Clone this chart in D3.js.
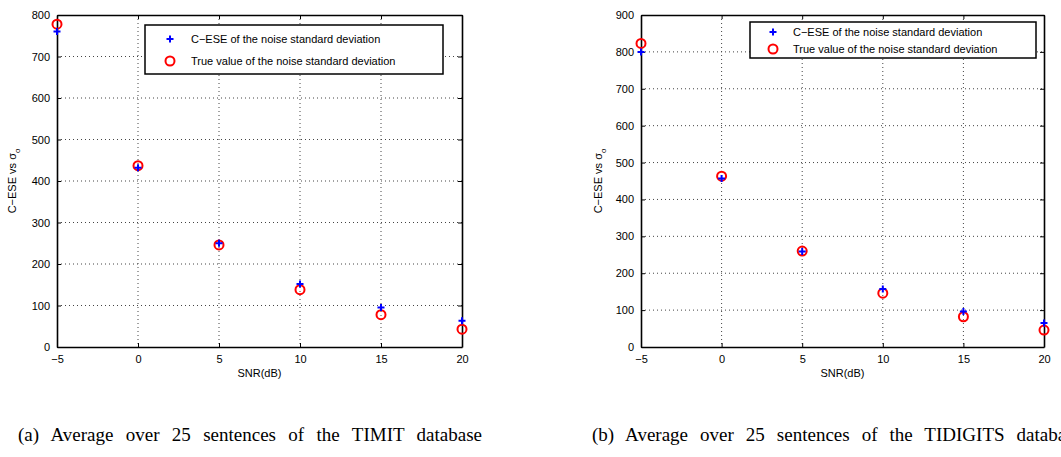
<!DOCTYPE html>
<html>
<head>
<meta charset="utf-8">
<script src="https://d3js.org/d3.v7.min.js"></script>
<style>
  body { margin: 0; background: #fff; }
  svg { display: block; }
  .tick text { font-family: "Liberation Sans", Arial, sans-serif; font-size: 11px; fill: #000; }
  .axisText { font-family: "Liberation Sans", Arial, sans-serif; font-size: 11px; fill: #000; }
  .caption { font-family: "Liberation Serif", "Times New Roman", serif; font-size: 19px; fill: #000; }
</style>
</head>
<body>
<div id="chart"></div>
<script>
var svgWidth = 1061;
var svgHeight = 457;

// Data
var snr = [-5, 0, 5, 10, 15, 20];
var timitEstimate = [760, 432, 250, 152, 95, 63];
var timitTrue = [778, 437, 246, 138, 78, 43];
var tidigitsEstimate = [800, 457, 259, 157, 96, 65];
var tidigitsTrue = [823, 463, 260, 146, 82, 46];

var xTicks = [-5, 0, 5, 10, 15, 20];
var timitYTicks = [0, 100, 200, 300, 400, 500, 600, 700, 800];
var tidigitsYTicks = [0, 100, 200, 300, 400, 500, 600, 700, 800, 900];

var legendLabels = ["C\u2212ESE of the noise standard deviation", "True value of the noise standard deviation"];
var xLabel = "SNR(dB)";
var captions = ["(a) Average over 25 sentences of the TIMIT database",
                "(b) Average over 25 sentences of the TIDIGITS database"];

var svg = d3.select("#chart")
    .append("svg")
    .attr("width", svgWidth)
    .attr("height", svgHeight);

function drawPanel(p) {
    var g = svg.append("g").attr("transform", `translate(${p.left}, ${p.top})`);
    var width = p.width, height = p.height;

    var x = d3.scaleLinear().domain([-5, 20]).range([0, width]);
    var y = d3.scaleLinear().domain([0, d3.max(p.yTicks)]).range([height, 0]);

    // Dotted grid
    g.append("g").selectAll("line").data(xTicks.slice(1, -1)).enter().append("line")
        .attr("x1", d => x(d)).attr("x2", d => x(d))
        .attr("y1", 0).attr("y2", height)
        .attr("stroke", "#444").attr("stroke-width", 1).attr("stroke-dasharray", "1,3");
    g.append("g").selectAll("line").data(p.yTicks.slice(1, -1)).enter().append("line")
        .attr("x1", 0).attr("x2", width)
        .attr("y1", d => y(d)).attr("y2", d => y(d))
        .attr("stroke", "#444").attr("stroke-width", 1).attr("stroke-dasharray", "1,3");

    // Axes with inner ticks (MATLAB box style)
    var bottomAxis = d3.axisBottom(x).tickValues(xTicks).tickSizeInner(-4).tickSizeOuter(0).tickPadding(8);
    var leftAxis = d3.axisLeft(y).tickValues(p.yTicks).tickSizeInner(-4).tickSizeOuter(0).tickPadding(7);
    var topAxis = d3.axisTop(x).tickValues(xTicks).tickSizeInner(-4).tickSizeOuter(0).tickFormat("");
    var rightAxis = d3.axisRight(y).tickValues(p.yTicks).tickSizeInner(-4).tickSizeOuter(0).tickFormat("");

    var axes = [
        g.append("g").attr("transform", `translate(0, ${height})`).call(bottomAxis),
        g.append("g").call(leftAxis),
        g.append("g").call(topAxis),
        g.append("g").attr("transform", `translate(${width}, 0)`).call(rightAxis)
    ];
    axes.forEach(function (a) {
        a.select(".domain").attr("stroke", "#000").attr("stroke-width", 1.6);
        a.selectAll(".tick line").attr("stroke", "#000");
    });

    var pts = snr.map((s, i) => ({ x: s, est: p.est[i], tru: p.tru[i] }));

    // True value circles
    g.selectAll("circle.tru").data(pts).enter().append("circle")
        .attr("class", "tru")
        .attr("cx", d => x(d.x)).attr("cy", d => y(d.tru))
        .attr("r", 4.5)
        .attr("fill", "none").attr("stroke", "#ff0000").attr("stroke-width", 2);

    // Estimates as plus markers
    g.selectAll("path.est").data(pts).enter().append("path")
        .attr("class", "est")
        .attr("d", d => `M${x(d.x) - 3.5},${y(d.est)}H${x(d.x) + 3.5}M${x(d.x)},${y(d.est) - 3.5}V${y(d.est) + 3.5}`)
        .attr("stroke", "#0000ff").attr("stroke-width", 2);

    // Legend
    var lg = g.append("g").attr("transform", `translate(${p.legend.x}, ${p.legend.y})`);
    lg.append("rect")
        .attr("width", p.legend.w).attr("height", p.legend.h)
        .attr("fill", "#fff").attr("stroke", "#000").attr("stroke-width", 1.5);
    var rowY = [p.legend.row1, p.legend.row2];
    lg.append("path")
        .attr("d", `M${p.legend.mx - 3.5},${rowY[0]}H${p.legend.mx + 3.5}M${p.legend.mx},${rowY[0] - 3.5}V${rowY[0] + 3.5}`)
        .attr("stroke", "#0000ff").attr("stroke-width", 2);
    lg.append("circle")
        .attr("cx", p.legend.mx).attr("cy", rowY[1]).attr("r", 4.5)
        .attr("fill", "none").attr("stroke", "#ff0000").attr("stroke-width", 2);
    lg.selectAll("text.lbl").data(legendLabels).enter().append("text")
        .attr("class", "axisText")
        .attr("x", p.legend.tx)
        .attr("y", (d, i) => rowY[i])
        .attr("dy", "0.35em")
        .text(d => d);

    // Axis labels
    var yl = g.append("text")
        .attr("class", "axisText")
        .attr("transform", `translate(${p.yLabelX}, ${height / 2}) rotate(-90)`)
        .attr("text-anchor", "middle")
        .text("C\u2212ESE vs \u03c3");
    yl.append("tspan").attr("dy", 4).attr("font-size", "8px").text("o");

    g.append("text")
        .attr("class", "axisText")
        .attr("x", width / 2)
        .attr("y", height + 30)
        .attr("text-anchor", "middle")
        .text(xLabel);

    // Caption, words spread like a justified LaTeX line
    var cap = svg.append("text")
        .attr("class", "caption")
        .attr("x", p.captionX)
        .attr("y", 441)
        .text(p.caption);
    var natural = cap.node().getComputedTextLength();
    var gaps = p.caption.split(" ").length - 1;
    cap.attr("word-spacing", Math.max(0, (p.captionLen - natural) / gaps));
}

drawPanel({
    left: 57, top: 15, width: 405, height: 332,
    yTicks: timitYTicks, est: timitEstimate, tru: timitTrue,
    legend: { x: 88, y: 10, w: 298, h: 49, row1: 14, row2: 36, mx: 25, tx: 46 },
    yLabelX: -41,
    caption: captions[0], captionX: 18, captionLen: 464
});

drawPanel({
    left: 641, top: 15, width: 403, height: 332,
    yTicks: tidigitsYTicks, est: tidigitsEstimate, tru: tidigitsTrue,
    legend: { x: 109, y: 7, w: 286, h: 36, row1: 10, row2: 27, mx: 23, tx: 43 },
    yLabelX: -39,
    caption: captions[1], captionX: 592, captionLen: 490
});
</script>
</body>
</html>
